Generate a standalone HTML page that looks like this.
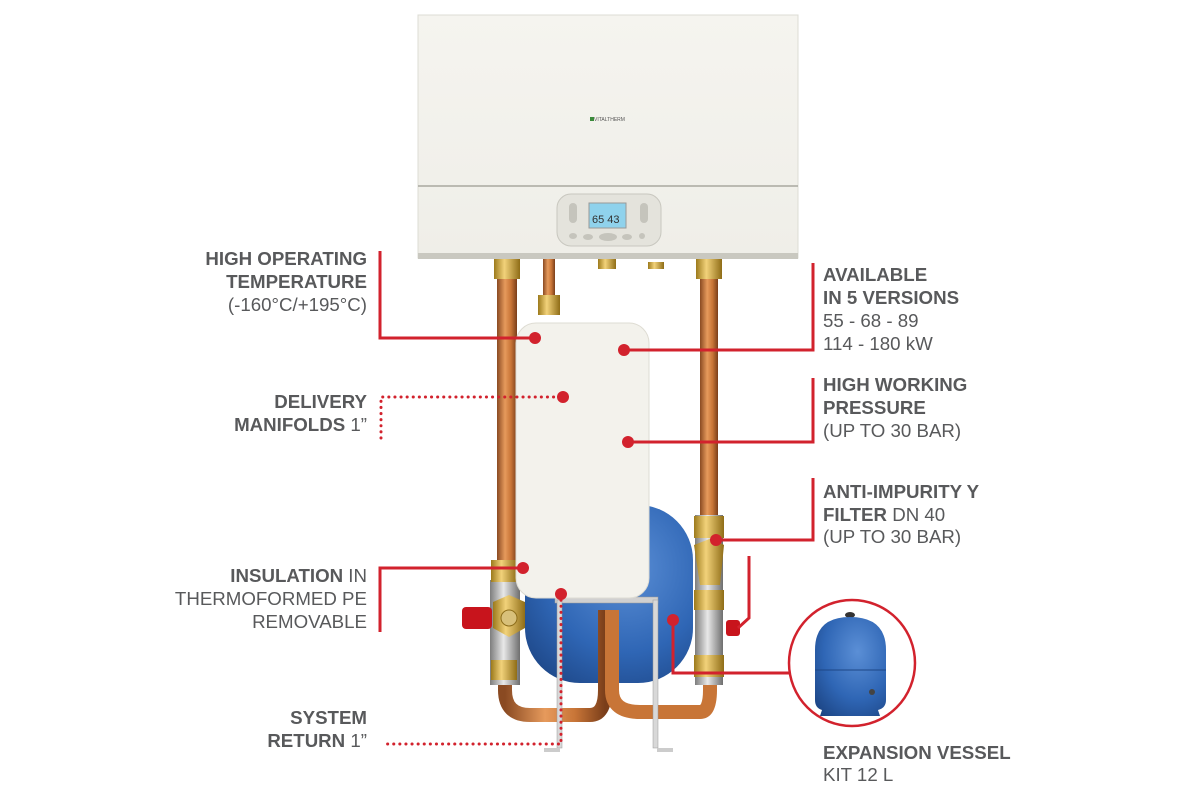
<!DOCTYPE html>
<html><head><meta charset="utf-8"><style>
html,body{margin:0;padding:0;background:#fff;width:1200px;height:797px;overflow:hidden}
svg{display:block}
text{font-family:"Liberation Sans",Arial,sans-serif;fill:#58595b;font-size:18.7px}
.b{font-weight:bold}
</style></head><body>
<svg width="1200" height="797" viewBox="0 0 1200 797" xmlns="http://www.w3.org/2000/svg">
<defs>
<linearGradient id="cu" x1="0" x2="1"><stop offset="0" stop-color="#8a4a22"/><stop offset=".4" stop-color="#e69a5c"/><stop offset=".7" stop-color="#c87537"/><stop offset="1" stop-color="#7a3e1a"/></linearGradient>
<linearGradient id="br" x1="0" x2="1"><stop offset="0" stop-color="#9c7a1c"/><stop offset=".4" stop-color="#f2d27a"/><stop offset="1" stop-color="#8f6d17"/></linearGradient>
<linearGradient id="st" x1="0" x2="1"><stop offset="0" stop-color="#7d7d7d"/><stop offset=".45" stop-color="#e8e8e8"/><stop offset="1" stop-color="#6e6e6e"/></linearGradient>
<radialGradient id="bl" cx=".6" cy=".35" r=".8"><stop offset="0" stop-color="#5b8fd6"/><stop offset=".6" stop-color="#2f66b5"/><stop offset="1" stop-color="#1d4686"/></radialGradient>
<linearGradient id="bx" x1="0" y1="0" x2="0" y2="1"><stop offset="0" stop-color="#f5f4ef"/><stop offset="1" stop-color="#efeee8"/></linearGradient>
</defs>

<rect x="418" y="15" width="380" height="243" fill="url(#bx)" stroke="#dddcd4"/>
<line x1="418" y1="186" x2="798" y2="186" stroke="#a9a8a0" stroke-width="1.5"/>
<rect x="418" y="253" width="380" height="6" fill="#c9c8c0"/>
<text x="594" y="121" style="font-size:5px;fill:#555">VITALTHERM</text>
<rect x="590" y="117" width="4" height="4" fill="#3a8a3a"/>
<rect x="557" y="194" width="104" height="52" rx="14" fill="#e4e3dc" stroke="#c8c7bf"/>
<rect x="589" y="203" width="37" height="25" fill="#8fd2ec" stroke="#999"/>
<text x="592" y="223" style="font-size:11px;fill:#333">65 43</text>
<g fill="#c5c4bc"><ellipse cx="573" cy="236" rx="4" ry="3"/><ellipse cx="588" cy="237" rx="5" ry="3"/><ellipse cx="608" cy="237" rx="9" ry="4"/><ellipse cx="627" cy="237" rx="5" ry="3"/><ellipse cx="642" cy="236" rx="3" ry="3"/><rect x="569" y="203" width="8" height="20" rx="4"/><rect x="640" y="203" width="8" height="20" rx="4"/></g>

<rect x="497" y="262" width="20" height="320" fill="url(#cu)"/>
<rect x="700" y="262" width="18" height="320" fill="url(#cu)"/>
<rect x="494" y="259" width="26" height="20" fill="url(#br)"/>
<rect x="696" y="259" width="26" height="20" fill="url(#br)"/>
<rect x="543" y="259" width="12" height="40" fill="url(#cu)"/>
<rect x="538" y="295" width="22" height="20" fill="url(#br)"/>
<rect x="598" y="259" width="18" height="10" fill="url(#br)"/>
<rect x="648" y="262" width="16" height="7" fill="url(#br)"/>

<rect x="525" y="505" width="168" height="178" rx="55" fill="url(#bl)"/>
<path d="M505 660 L505 690 Q505 715 530 715 L590 715 Q605 715 605 690 L605 610" fill="none" stroke="url(#cu)" stroke-width="14"/>
<path d="M612 610 L612 690 Q612 712 640 712 L700 712 Q710 712 710 690 L710 660" fill="none" stroke="#c87537" stroke-width="14"/>
<rect x="555" y="597" width="103" height="6" fill="#d0d0d0" stroke="#999" stroke-width=".5"/>
<rect x="557" y="600" width="5" height="148" fill="#d8d8d8" stroke="#999" stroke-width=".5"/>
<rect x="653" y="600" width="5" height="148" fill="#d8d8d8" stroke="#999" stroke-width=".5"/>
<rect x="544" y="748" width="16" height="4" fill="#ccc"/>
<rect x="657" y="748" width="16" height="4" fill="#ccc"/>
<rect x="490" y="580" width="30" height="105" fill="url(#st)"/>
<rect x="491" y="560" width="26" height="22" fill="url(#br)"/>
<rect x="491" y="660" width="26" height="20" fill="url(#br)"/>
<polygon points="493,602 509,595 525,602 525,628 509,637 493,628" fill="url(#br)"/>
<circle cx="509" cy="618" r="8" fill="#d8c07a" stroke="#8d6d1a"/>
<rect x="462" y="607" width="30" height="22" rx="4" fill="#c8141c"/>
<rect x="695" y="515" width="28" height="170" fill="url(#st)"/>
<rect x="694" y="516" width="30" height="22" fill="url(#br)"/>
<polygon points="694,545 712,538 724,545 720,585 700,585" fill="url(#br)"/>
<rect x="694" y="590" width="30" height="20" fill="url(#br)"/>
<rect x="694" y="655" width="30" height="22" fill="url(#br)"/>
<rect x="726" y="620" width="14" height="16" rx="3" fill="#c8141c"/>

<rect x="516" y="323" width="133" height="275" rx="20" fill="#f3f2ec" stroke="#dedcd3"/>

<g stroke="#d2222d" stroke-width="3" fill="none">
<polyline points="380,251 380,338 535,338"/>
<polyline points="624,350 813,350 813,263"/>
<polyline points="628,442 813,442 813,378"/>
<polyline points="716,540 813,540 813,478"/>
<polyline points="523,568 380,568 380,632"/>
<polyline points="749,556 749,618 738,628"/>
<polyline points="673,620 673,673 790,673"/>
<circle cx="852" cy="663" r="63" stroke-width="2.5"/>
</g>
<g stroke="#d2222d" stroke-width="3" fill="none" stroke-dasharray="0.1 6" stroke-linecap="round">
<polyline points="381,438 381,397 563,397"/>
<polyline points="561,594 561,744 382,744"/>
</g>
<g fill="#d2222d">
<circle cx="535" cy="338" r="6"/><circle cx="624" cy="350" r="6"/><circle cx="563" cy="397" r="6"/>
<circle cx="628" cy="442" r="6"/><circle cx="716" cy="540" r="6"/><circle cx="523" cy="568" r="6"/>
<circle cx="561" cy="594" r="6"/><circle cx="673" cy="620" r="6"/>
</g>

<ellipse cx="850" cy="615" rx="5" ry="3" fill="#333"/>
<path d="M815 650 Q815 617 850 617 Q886 617 886 650 L886 700 Q886 708 878 710 L880 716 L820 716 L822 710 Q815 708 815 700 Z" fill="url(#bl)"/>
<line x1="815" y1="670" x2="886" y2="670" stroke="#1d4686" stroke-width="1"/>
<circle cx="872" cy="692" r="3" fill="#444"/>

<g text-anchor="end">
<text x="367" y="265" class="b">HIGH OPERATING</text>
<text x="367" y="288" class="b">TEMPERATURE</text>
<text x="367" y="311">(-160°C/+195°C)</text>
<text x="367" y="408" class="b">DELIVERY</text>
<text x="367" y="431"><tspan class="b">MANIFOLDS</tspan> 1”</text>
<text x="367" y="582"><tspan class="b">INSULATION</tspan> IN</text>
<text x="367" y="605">THERMOFORMED PE</text>
<text x="367" y="628">REMOVABLE</text>
<text x="367" y="724" class="b">SYSTEM</text>
<text x="367" y="747"><tspan class="b">RETURN</tspan> 1”</text>
</g>
<text x="823" y="281" class="b">AVAILABLE</text>
<text x="823" y="304" class="b">IN 5 VERSIONS</text>
<text x="823" y="327">55 - 68 - 89</text>
<text x="823" y="350">114 - 180 kW</text>
<text x="823" y="391" class="b">HIGH WORKING</text>
<text x="823" y="414" class="b">PRESSURE</text>
<text x="823" y="437">(UP TO 30 BAR)</text>
<text x="823" y="498" class="b">ANTI-IMPURITY Y</text>
<text x="823" y="521"><tspan class="b">FILTER</tspan> DN 40</text>
<text x="823" y="543">(UP TO 30 BAR)</text>
<text x="823" y="759" class="b">EXPANSION VESSEL</text>
<text x="823" y="781">KIT 12 L</text>
</svg>
</body></html>
